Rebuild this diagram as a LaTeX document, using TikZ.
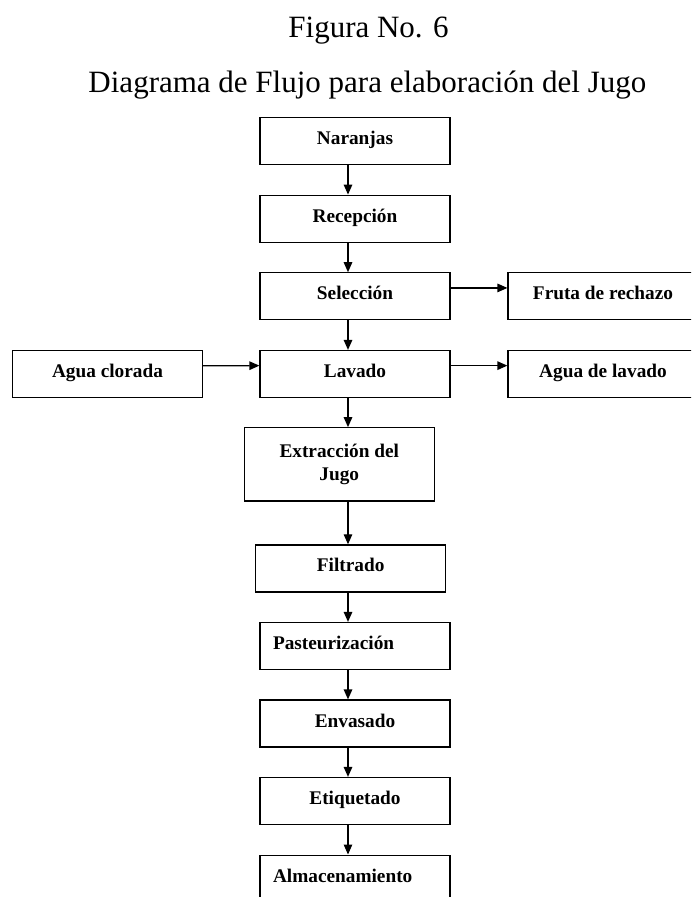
\documentclass[tikz,border=0pt]{standalone}
\usepackage{fontspec}
\setmainfont{Liberation Serif}
\usetikzlibrary{arrows.meta}
\tikzset{every picture/.style={line width=1.2pt}}

\begin{document}
\begin{tikzpicture}[x=1pt,y=1pt,yscale=-1,xscale=1,
  marco/.style={draw, rectangle, minimum width=190pt, minimum height=47pt, inner sep=0pt, font=\fontsize{19.3}{22.7}\selectfont\bfseries},
  caja/.style={marco, text height=12pt, text depth=5pt},
  cajaizq/.style={caja, text width=164pt, align=left},
  flecha/.style={-{Triangle[length=10pt,width=8.5pt]}, line width=1.3pt}]
%set diagram area, 691 x 897
\path[use as bounding box, clip] (0,0) rectangle (691,897);

% Text Node
\node[anchor=base, font=\fontsize{31}{37}\selectfont] (figura) at (368.5,37.7) {Figura No. 6};
% Text Node
\node[anchor=base, font=\fontsize{31}{37}\selectfont] (titulo) at (367.4,92.5) {Diagrama de Flujo para elaboración del Jugo};

%Shape: Rectangle
\node[caja] (naranjas) at (355,141.3) {Naranjas};
%Shape: Rectangle
\node[caja] (recepcion) at (355,218.7) {Recepción};
%Shape: Rectangle
\node[caja] (seleccion) at (355,296.3) {Selección};
%Shape: Rectangle
\node[caja] (fruta) at (603,296.3) {Fruta de rechazo};
%Shape: Rectangle
\node[caja] (clorada) at (107.5,374.2) {Agua clorada};
%Shape: Rectangle
\node[caja] (lavado) at (355,374) {Lavado};
%Shape: Rectangle
\node[caja] (agualavado) at (603,374) {Agua de lavado};
%Shape: Rectangle
\node[marco, minimum height=73.3pt, align=center] (extraccion) at (339.3,464.4) {Extracción del\\Jugo};
%Shape: Rectangle
\node[caja] (filtrado) at (350.7,568.4) {Filtrado};
%Shape: Rectangle
\node[cajaizq] (pasteurizacion) at (355,646) {Pasteurización};
%Shape: Rectangle
\node[caja] (envasado) at (355,723.5) {Envasado};
%Shape: Rectangle
\node[caja] (etiquetado) at (355,801) {Etiquetado};
%Shape: Rectangle
\node[cajaizq] (almacenamiento) at (355,878.6) {Almacenamiento};

%vertical line of the flow
\coordinate (eje) at (348,0);

\draw[flecha] (naranjas.south -| eje) -- (recepcion.north -| eje);
\draw[flecha] (recepcion.south -| eje) -- (seleccion.north -| eje);
\draw[flecha] (seleccion.south -| eje) -- (lavado.north -| eje);
\draw[flecha] (lavado.south -| eje) -- (extraccion.north -| eje);
\draw[flecha] (extraccion.south -| eje) -- (filtrado.north -| eje);
\draw[flecha] (filtrado.south -| eje) -- (pasteurizacion.north -| eje);
\draw[flecha] (pasteurizacion.south -| eje) -- (envasado.north -| eje);
\draw[flecha] (envasado.south -| eje) -- (etiquetado.north -| eje);
\draw[flecha] (etiquetado.south -| eje) -- (almacenamiento.north -| eje);

\draw[flecha] (seleccion.5) -- (fruta.175);
\draw[flecha] (clorada.5) -- (lavado.175);
\draw[flecha] (lavado.5) -- (agualavado.175);

\end{tikzpicture}
\end{document}
